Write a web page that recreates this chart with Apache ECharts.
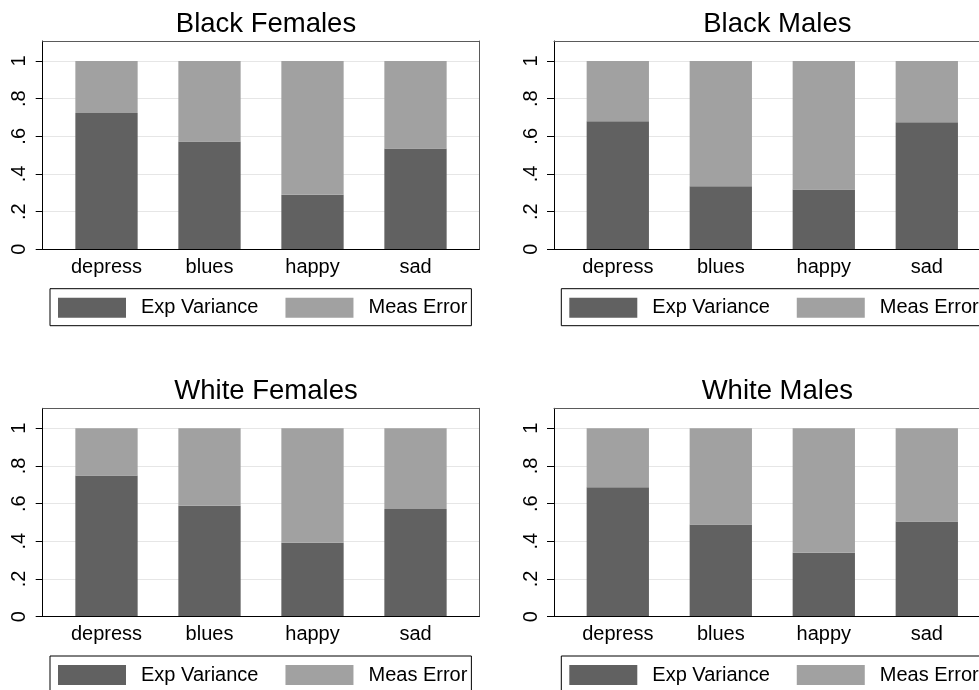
<!DOCTYPE html>
<html>
<head>
<meta charset="utf-8">
<script src="https://cdn.jsdelivr.net/npm/echarts@6/dist/echarts.min.js"></script>
<style>
  html, body { margin: 0; padding: 0; background: #fff; }
  #chart { width: 979px; height: 690px; }
</style>
</head>
<body>
<div id="chart"></div>
<script>
// Share of each item's variance that is explained vs. measurement error
const categories = ['depress', 'blues', 'happy', 'sad'];
const panelTitles = ['Black Females', 'Black Males', 'White Females', 'White Males'];
const seriesNames = ['Exp Variance', 'Meas Error'];
const yTicks = [0, 0.2, 0.4, 0.6, 0.8, 1];
const yTickLabels = ['0', '.2', '.4', '.6', '.8', '1'];

const blackFemalesExp = [0.724, 0.572, 0.289, 0.535];
const blackFemalesErr = [0.276, 0.428, 0.711, 0.465];
const blackMalesExp = [0.680, 0.335, 0.317, 0.674];
const blackMalesErr = [0.320, 0.665, 0.683, 0.326];
const whiteFemalesExp = [0.749, 0.588, 0.392, 0.571];
const whiteFemalesErr = [0.251, 0.412, 0.608, 0.429];
const whiteMalesExp = [0.687, 0.489, 0.339, 0.505];
const whiteMalesErr = [0.313, 0.511, 0.661, 0.495];

const panelData = [
  [blackFemalesExp, blackFemalesErr],
  [blackMalesExp, blackMalesErr],
  [whiteFemalesExp, whiteFemalesErr],
  [whiteMalesExp, whiteMalesErr]
];

const FONT = '"Liberation Sans", Arial, Helvetica, sans-serif';
const DARK = '#616161';
const LIGHT = '#a1a1a1';
const Y_MAX = 1.106;

// panel layout (top-left of plot box for each panel)
const origins = [[42.7, 41], [554, 41], [42.7, 408.3], [554, 408.3]];
const BOX_W = 436.6, BOX_H = 208.3, BAND_PAD = 12.3;

const grids = [], xAxes = [], yAxes = [], series = [], titles = [], legends = [];

origins.forEach(([ox, oy], p) => {
  // outer plot box (frame, gridlines, y axis)
  grids.push({ left: ox, top: oy, width: BOX_W, height: BOX_H });
  // inner region for the category bands
  grids.push({ left: ox + BAND_PAD, top: oy, width: BOX_W - 2 * BAND_PAD, height: BOX_H });
  const gA = 2 * p, gB = 2 * p + 1;

  xAxes.push({
    gridIndex: gA, type: 'value', min: 0, max: 1, position: 'bottom',
    axisLine: { show: true, onZero: false, lineStyle: { color: '#000', width: 1 } },
    axisTick: { show: false }, axisLabel: { show: false }, splitLine: { show: false }, z: 4
  });
  xAxes.push({
    gridIndex: gA, type: 'value', min: 0, max: 1, position: 'top',
    axisLine: { show: true, onZero: false, lineStyle: { color: '#5a5a5a', width: 1 } },
    axisTick: { show: false }, axisLabel: { show: false }, splitLine: { show: false }, z: 4
  });
  xAxes.push({
    gridIndex: gB, type: 'category', data: categories, position: 'bottom',
    axisLine: { show: false, onZero: false }, axisTick: { show: false }, splitLine: { show: false },
    axisLabel: { color: '#000', fontSize: 20, fontFamily: FONT, margin: 8, interval: 0 }
  });

  yAxes.push({
    gridIndex: gA, type: 'value', min: 0, max: Y_MAX, interval: 0.2, position: 'left',
    axisLine: { show: true, onZero: false, lineStyle: { color: '#000', width: 1 } },
    axisTick: { show: true, length: 7, lineStyle: { color: '#000', width: 1 }, customValues: yTicks },
    axisLabel: {
      color: '#000', fontSize: 20, fontFamily: FONT, rotate: 90, margin: 13,
      customValues: yTicks,
      formatter: v => {
        const i = yTicks.findIndex(t => Math.abs(t - v) < 1e-6);
        return i >= 0 ? yTickLabels[i] : '';
      }
    },
    splitLine: { show: true, lineStyle: { color: '#e6e6e6', width: 1 } }, z: 1
  });
  yAxes.push({
    gridIndex: gA, type: 'value', min: 0, max: Y_MAX, position: 'right',
    axisLine: { show: true, onZero: false, lineStyle: { color: '#5a5a5a', width: 1 } },
    axisTick: { show: false }, axisLabel: { show: false }, splitLine: { show: false }, z: 4
  });
  yAxes.push({
    gridIndex: gB, type: 'value', min: 0, max: Y_MAX, show: false,
    splitLine: { show: false }
  });

  const [expVals, errVals] = panelData[p];
  [expVals, errVals].forEach((vals, k) => {
    series.push({
      name: seriesNames[k], type: 'bar', stack: 'panel' + p,
      xAxisIndex: 3 * p + 2, yAxisIndex: 3 * p + 2,
      barWidth: 62.3, data: vals, silent: true, z: 2,
      itemStyle: { color: k === 0 ? DARK : LIGHT, borderWidth: 0 }
    });
  });

  titles.push({
    text: panelTitles[p], left: ox + BOX_W / 2, top: oy - 36, textAlign: 'center',
    textStyle: { color: '#000', fontSize: 27.5, fontWeight: 'normal', fontFamily: FONT }
  });

  legends.push({
    data: seriesNames, left: ox + 7.3, top: oy + 247.7, width: 600, orient: 'horizontal',
    icon: 'rect', itemWidth: 68, itemHeight: 20, itemGap: 27,
    padding: [9, 4, 8, 8], borderColor: '#000', borderWidth: 1,
    selectedMode: false,
    textStyle: { color: '#000', fontSize: 20, fontFamily: FONT, padding: [0, 0, 0, 10] }
  });
});

const chart = echarts.init(document.getElementById('chart'), null, { renderer: 'canvas' });
chart.setOption({
  backgroundColor: '#fff',
  animation: false,
  title: titles,
  legend: legends,
  grid: grids,
  xAxis: xAxes,
  yAxis: yAxes,
  series: series
});
</script>
</body>
</html>
